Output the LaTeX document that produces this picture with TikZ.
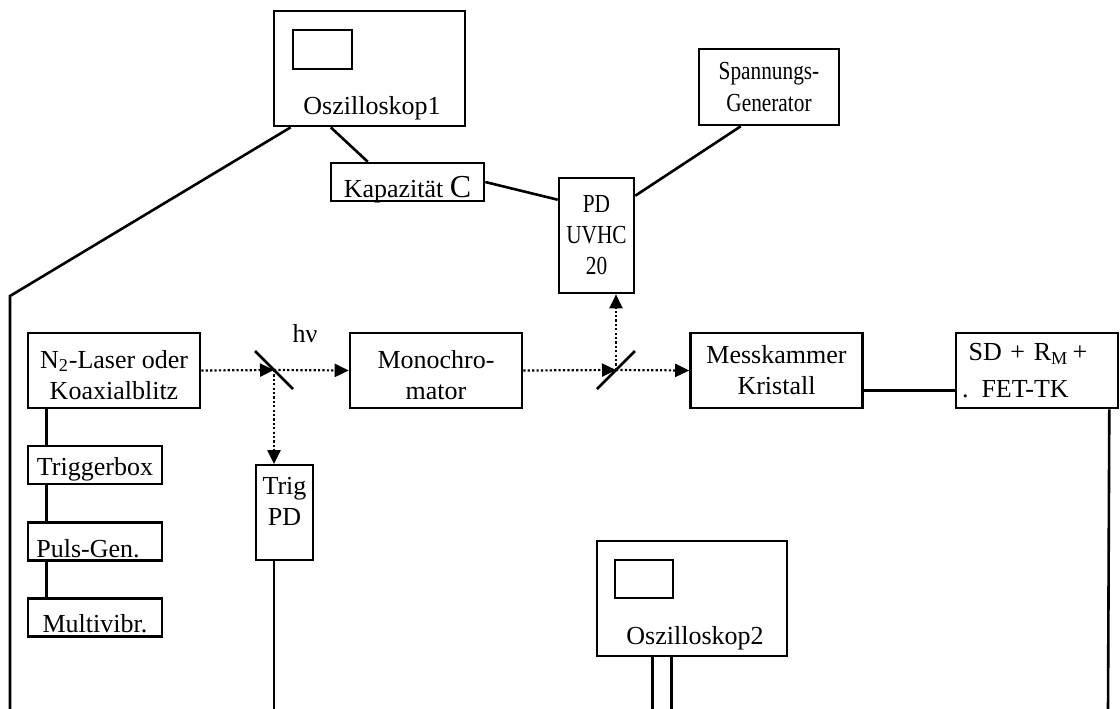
\documentclass[tikz,border=0pt]{standalone}
\usepackage{fontspec}
\usepackage{graphicx}
\setmainfont{Liberation Serif}
\usetikzlibrary{arrows.meta,calc}
\newcommand{\narrow}[1]{\scalebox{0.82}[1]{#1}}
\begin{document}
\begin{tikzpicture}[
        x=0.5pt, y=-0.5pt,
        box/.style={rectangle, draw, line width=1.3pt, inner sep=0pt, align=center},
        bigbox/.style={box, minimum width=86pt, minimum height=37.5pt},
        smallbox/.style={box, minimum width=67pt, minimum height=19pt, text depth=0pt},
        oszi/.style={rectangle, draw, line width=1.3pt, minimum width=95.5pt, minimum height=57.5pt},
        screen/.style={rectangle, draw, line width=1.3pt, minimum width=29.5pt, minimum height=19.5pt},
        wire/.style={line width=1.3pt},
        beam/.style={-{Triangle[length=7pt,width=6.5pt]}, line width=1.1pt, dash pattern=on 1.1pt off 1.1pt},
        mirror/.style={line width=1.3pt},
        every node/.style={font=\fontsize{13}{15.5}\selectfont}
        ]
      \useasboundingbox (0,0) rectangle (1120,708);
      \node[oszi] (osc1) at (369.5,68.5) {};
      \node[screen] (scr1) at (322.5,49.5) {};
      \node (osc1txt) at (372,108) {Oszilloskop1};
      \node[box, minimum width=76.5pt, minimum height=19pt, text height=15pt, text depth=0pt] (kap) at (407.5,182) {Kapazität {\fontsize{16}{16}\selectfont C}};
      \node[box, minimum width=37.5pt, minimum height=57.5pt] (pd) at (596.5,235.5) {\narrow{PD}\\\narrow{UVHC}\\\narrow{20}};
      \node[box, minimum width=70pt, minimum height=38pt, font=\fontsize{13}{16}\selectfont] (gen) at (769,87) {\narrow{Spannungs-}\\\narrow{Generator}};
      \node[bigbox, text height=28.5pt, text depth=0pt] (laser) at (114,370.5) {N\textsubscript{2}-Laser oder\\Koaxialblitz};
      \node[bigbox, text height=28.5pt, text depth=0pt] (mono) at (436,370.5) {Monochro-\\mator};
      \node[bigbox] (mess) at (776.5,370.5) {Messkammer\\Kristall};
      \node[box, minimum width=81pt, minimum height=37.5pt, text width=75pt, inner xsep=3pt, align=left] (sd) at (1037,370.5) {\hspace*{3.3pt}SD + R\textsubscript{M}\,+\\[3pt]. FET-TK};
      \node[smallbox, text height=10pt] (trigbox) at (95,465) {Triggerbox};
      \node[smallbox, text height=15.5pt] (puls) at (95,541.5) {Puls-Gen.\hspace*{7pt}};
      \node[smallbox, text height=14.5pt] (multi) at (95,617.5) {Multivibr.};
      \node[box, line width=0.9pt, minimum width=28.5pt, minimum height=47.5pt, text depth=11pt] (trigpd) at (284.5,512.5) {Trig\\PD};
      \node[oszi, minimum width=95pt] (osc2) at (692,598.5) {};
      \node[screen, minimum width=29pt, minimum height=19pt] (scr2) at (644,579) {};
      \node (osc2txt) at (695,638) {Oszilloskop2};
      \node (hnu) at (305,334) {hν};
      \coordinate (m1) at (274,370);
      \coordinate (m2) at (616,370);
      \coordinate (railL) at (10,296);
      \coordinate (railLend) at (10,712);
      \coordinate (trigend) at (274,712);
      \coordinate (sdend) at (1108,712);
      \draw[mirror] ($(m1)+(-19,-19)$) -- ($(m1)+(19,19)$);
      \draw[mirror] ($(m2)+(-19,19)$) -- ($(m2)+(19,-19)$);
      \draw[beam] (laser.east) -- (m1);
      \draw[beam] (m1) -- (mono.west);
      \draw[beam] (m1) -- (m1 |- trigpd.north);
      \draw[beam] (mono.east) -- (m2);
      \draw[beam] (m2) -- (mess.west);
      \draw[beam] (m2) -- (m2 |- pd.south);
      \draw[wire] ($(osc1.south west)+(18,0)$) -- (railL) -- (railLend);
      \draw[wire] ($(osc1.south west)+(58,0)$) -- ($(kap.north west)+(38,0)$);
      \draw[wire] (kap.east) -- ($(pd.north west)+(0,23)$);
      \draw[wire] ($(pd.north east)+(0,19)$) -- ($(gen.south west)+(43,0)$);
      \draw[wire] ($(mess.south east)+(0,-19)$) -- ($(sd.south west)+(0,-19)$);
      \draw[wire] ($(sd.south east)+(-10,0)$) -- (sdend);
      \draw[wire] (m1 |- trigpd.south) -- (trigend);
      \foreach \a/\b in {laser/trigbox, trigbox/puls, puls/multi}
        \draw[wire] ($(\a.south west)+(20,0)$) -- ($(\b.north west)+(20,0)$);
      \draw[wire] ($(osc2.south west)+(57,0)$) -- ++(0,60);
      \draw[wire] ($(osc2.south west)+(76,0)$) -- ++(0,60);
    \end{tikzpicture}
\end{document}
